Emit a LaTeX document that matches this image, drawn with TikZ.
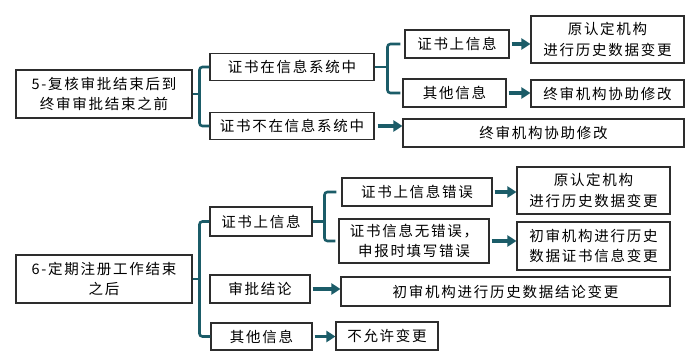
\documentclass[tikz,border=0pt]{standalone}
\usepackage{fontspec}
\setmainfont{Noto Sans CJK SC}[LetterSpace=12]
\usetikzlibrary{arrows.meta}
\definecolor{tealc}{RGB}{27,92,104}
\definecolor{boxc}{RGB}{45,45,45}
\begin{document}
\begin{tikzpicture}[x=1pt,y=-1pt,
 bx/.style={draw=boxc,line width=1.1pt,align=center,inner sep=0pt,font=\fontsize{14.5}{20.5}\selectfont},
 br/.style={draw=tealc,line width=2.6pt,rounded corners=3pt},
 arr/.style={draw=tealc,line width=3.5pt,-{Triangle[length=9pt,width=11pt]}}]
\fill[white] (0,0) rectangle (700,358);
\useasboundingbox (0,0) rectangle (700,358);

% top section
\node[bx,minimum width=176pt,minimum height=48pt] (A) at (104,94) {5-复核审批结束后到\\终审审批结束之前};
\node[bx,minimum width=164pt,minimum height=27pt] (B1) at (292,67) {证书在信息系统中};
\node[bx,minimum width=164pt,minimum height=27pt] (B2) at (292,126) {证书不在信息系统中};
\node[bx,minimum width=104pt,minimum height=28pt] (C1) at (457,44) {证书上信息};
\node[bx,minimum width=103pt,minimum height=28pt] (C2) at (454.5,93) {其他信息};
\node[bx,minimum width=153pt,minimum height=47pt] (D1) at (607.5,39.5) {原认定机构\\进行历史数据变更};
\node[bx,minimum width=153pt,minimum height=27pt] (D2) at (607.5,93.5) {终审机构协助修改};
\node[bx,minimum width=281pt,minimum height=28pt] (D3) at (543.5,133) {终审机构协助修改};

% bottom section
\node[bx,minimum width=176pt,minimum height=48pt] (E) at (104,279) {6-定期注册工作结束\\之后};
\node[bx,minimum width=102pt,minimum height=29pt] (F1) at (261,221.5) {证书上信息};
\node[bx,minimum width=100pt,minimum height=28pt] (F2) at (260,289) {审批结论};
\node[bx,minimum width=101pt,minimum height=27pt] (F3) at (261.5,336.5) {其他信息};
\node[bx,minimum width=150pt,minimum height=28pt] (G1) at (417,192) {证书上信息错误};
\node[bx,minimum width=150pt,minimum height=44pt] (G2) at (414,241) {证书信息无错误，\\申报时填写错误};
\node[bx,minimum width=153pt,minimum height=47pt] (H1) at (593.5,190.5) {原认定机构\\进行历史数据变更};
\node[bx,minimum width=153pt,minimum height=48pt] (H2) at (593.5,246) {初审机构进行历史\\数据证书信息变更};
\node[bx,minimum width=329pt,minimum height=29pt] (H3) at (505.5,291.5) {初审机构进行历史数据结论变更};
\node[bx,minimum width=102pt,minimum height=28pt] (H4) at (387,336) {不允许变更};

% brackets
\draw[br] (A.east) -- ++(8,0);
\draw[br] (B1.west) -- ++(-10,0) |- (B2.west);
\draw[br] (B1.east) -- ++(14,0);
\draw[br] ([xshift=-4pt]C1.west) -- ([xshift=-17pt]C1.west) |- ([xshift=-2pt]C2.west);
\draw[br] (E.east) -- ++(8,0);
\draw[br] (F1.west) -- ++(-10,0) |- (F3.west);
\draw[br] (F1.east) -- ++(13,0);
\draw[br] ([xshift=-5pt]G1.west) -- ([xshift=-17pt]G1.west) |- ([xshift=-3pt]G2.west);

% arrows
\draw[arr] ([xshift=2pt]C1.east) -- (C1.east -| D1.west);
\draw[arr] ([xshift=2pt]C2.east) -- (C2.east -| D2.west);
\draw[arr] ([xshift=3pt]B2.east) -- (B2.east -| D3.west);
\draw[arr] ([xshift=2pt]G1.east) -- (G1.east -| H1.west);
\draw[arr] ([xshift=2pt]G2.east) -- (G2.east -| H2.west);
\draw[arr] ([xshift=2pt]F2.east) -- (F2.east -| H3.west);
\draw[arr] ([xshift=2pt]F3.east) -- (F3.east -| H4.west);
\end{tikzpicture}
\end{document}
